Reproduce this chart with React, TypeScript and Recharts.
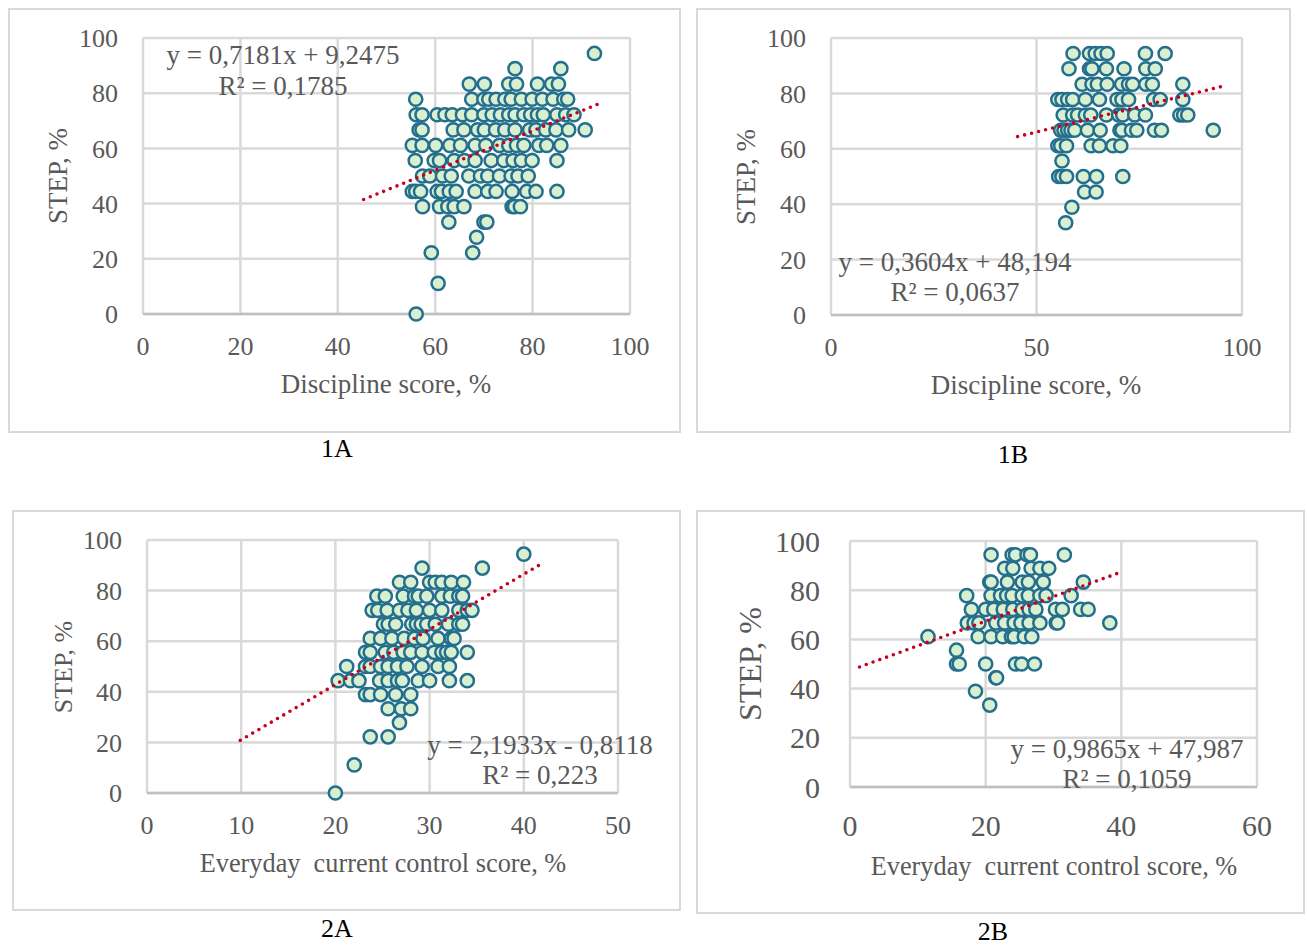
import { ScatterChart, Scatter, XAxis, YAxis, CartesianGrid, Label } from 'recharts';

// STEP score levels, low to high. Each xs array below lists the x values seen at that level.
const stepLevels = [0, 11.1, 22.2, 27.8, 33.3, 38.9, 44.4, 50, 55.6, 61.1, 66.7, 72.2, 77.8, 83.3, 88.9, 94.4];

const xs1A = [
  [56.1], [60.6], [59.2, 67.7], [68.5], [62.8, 70, 70.6],
  [57.4, 60.9, 62.6, 63.9, 65.9, 75.8, 76.3, 77.5],
  [55.3, 56, 57, 60.4, 61.3, 62.9, 64.3, 68.2, 70.8, 72.5, 75.8, 78.8, 80.7, 85],
  [57.4, 58.9, 61.5, 63.3, 66.9, 69.3, 70.8, 73.2, 75.6, 77, 79.1],
  [55.9, 59.8, 60.9, 63.9, 66, 68.2, 71.5, 74.1, 76, 77.7, 79.9, 85],
  [55.3, 57.3, 60.1, 63, 65.2, 68.2, 70.4, 73.2, 75.1, 76.7, 78.2, 81.3, 82.9, 85.8],
  [56.7, 57.3, 63.7, 65.9, 68.7, 70.1, 72.4, 74.3, 76.4, 79.4, 80.7, 82.7, 84.8, 87.4, 90.8],
  [56.1, 57.3, 60.4, 62, 63.5, 65.6, 67.5, 70, 71.7, 73.4, 75.1, 76.4, 78.2, 79.6, 81, 82.2, 85, 86.8, 88.5],
  [56, 67.5, 70, 71, 72.5, 74.3, 75.6, 77.7, 79.9, 82, 84.2, 86.4, 87.2],
  [67, 70.1, 75.1, 76.7, 81, 83.9, 85.3],
  [76.4, 85.8],
  [92.7],
];
const xs1B = [
  [], [], [], [], [57.1], [58.6], [61.7, 64.5],
  [55.4, 56.2, 57.3, 61.4, 64.6, 71],
  [56.2],
  [55.2, 55.9, 57.3, 63.3, 65.3, 68.6, 70.5],
  [55.9, 56.7, 57.6, 58.4, 59.3, 62.4, 65.5, 70.3, 70.8, 73.1, 74.4, 78.7, 80.4, 93],
  [56.5, 58.8, 60, 61.9, 63.2, 67, 70, 71, 73.9, 76.5, 84.9, 85.8, 86.8],
  [55.2, 56.2, 57.6, 58.8, 61.9, 65.3, 69.6, 70.8, 72.4, 78.5, 80.1, 85.6],
  [61.1, 63.5, 64.8, 67.2, 70.7, 72.4, 73.4, 76.6, 78.2, 85.6],
  [57.9, 62.9, 63.5, 67, 71.3, 76.6, 78.9],
  [58.9, 62.9, 64.3, 65.7, 67.2, 76.5, 81.3],
];
const xs2A = [
  [20], [22], [23.7, 25.6], [26.8], [25.6, 27, 28],
  [23.2, 23.7, 24.8, 26.4, 28],
  [20.3, 21.6, 22.5, 24.7, 25.6, 26.6, 27.1, 28.8, 30, 32.1, 34],
  [21.2, 23.2, 23.7, 24.8, 25.6, 26.6, 27.6, 29.2, 30.9, 32.1],
  [23.2, 23.7, 25.3, 26.2, 27.2, 28, 29.2, 30.5, 31.3, 31.8, 32.3, 34],
  [23.7, 24.8, 26, 27.3, 28.4, 29.3, 30.9, 32.3, 32.6],
  [25.1, 25.6, 26.4, 28.1, 28.6, 29.1, 29.7, 30.6, 32, 33.1, 33.5],
  [23.9, 24.5, 25.5, 26.8, 27.7, 28.6, 30, 31.3, 33.1, 34, 34.5],
  [24.4, 25.3, 27.2, 28.4, 28.8, 29.7, 31.3, 32.2, 33.1, 33.5],
  [26.8, 28, 30, 30.6, 31.3, 32.3, 33.6],
  [29.2, 35.6],
  [40],
];
const xs2B = [
  [], [], [], [], [20.6], [18.5], [21.5, 21.6],
  [15.7, 16.1, 20, 24.4, 25.3, 27.2],
  [15.7],
  [11.5, 18.9, 20.8, 22.5, 23.8, 24.2, 25.7, 26.8],
  [17.3, 18.3, 19, 21.5, 22.8, 24.2, 25.2, 26.4, 28, 30.4, 30.6, 38.3],
  [17.9, 20, 21.2, 22.6, 24, 25.4, 26.4, 27.4, 30.3, 31.3, 34, 35.1],
  [17.2, 20.8, 22.2, 23.1, 23.9, 25.4, 26.3, 28, 28.9, 32.6],
  [20.6, 20.8, 23.2, 25.4, 26.3, 28.5, 34.4],
  [22.8, 24, 26.7, 28, 29.3],
  [20.8, 23.9, 24.4, 26.1, 26.6, 31.6],
];

// trend line ends
const trend1A = [{ x: 45.3, y: 41.5 }, { x: 94.1, y: 76.5 }];
const trend1B = [{ x: 45.4, y: 64.4 }, { x: 95.1, y: 82.5 }];
const trend2A = [{ x: 9.9, y: 20.8 }, { x: 41.7, y: 90.2 }];
const trend2B = [{ x: 1.4, y: 48.8 }, { x: 40.2, y: 87.6 }];

const yTicks = [0, 20, 40, 60, 80, 100];
const xTicks1A = [0, 20, 40, 60, 80, 100];
const xTicks1B = [0, 50, 100];
const xTicks2A = [0, 10, 20, 30, 40, 50];
const xTicks2B = [0, 20, 40, 60];

const toPoints = (xs: number[][]) =>
  xs.flatMap((row, i) => row.map((x) => ({ x, y: stepLevels[i] })));

const SERIF = '"Liberation Serif", serif';
const TEXT = '#595959';
const GRID = '#D9D9D9';

const Dot = (props: any) => (
  <circle cx={props.cx} cy={props.cy} r={6.6} fill="#D8EFD0" stroke="#246F8E" strokeWidth={2.5} />
);

const panels = [
  {
    name: '1A', frame: [8, 8, 681, 433], plot: [143, 38, 630, 314], xs: xs1A, trend: trend1A, xTicks: xTicks1A, xMax: 100,
    xTitle: 'Discipline score, %', xTitleAt: [386, 384], yTitleAt: [58, 176], font: 26, xFont: 27, yFont: 27, tickGap: 23,
    eq: ['y = 0,7181x + 9,2475', 'R² = 0,1785'], eqFont: 27, eqAt: [283, 55, 86], caption: [337, 449],
  },
  {
    name: '1B', frame: [696, 8, 1291, 433], plot: [831, 38, 1242, 315], xs: xs1B, trend: trend1B, xTicks: xTicks1B, xMax: 100,
    xTitle: 'Discipline score, %', xTitleAt: [1036, 385], yTitleAt: [746, 177], font: 26, xFont: 27, yFont: 27, tickGap: 23,
    eq: ['y = 0,3604x + 48,194', 'R² = 0,0637'], eqFont: 27, eqAt: [955, 262, 292], caption: [1013, 455],
  },
  {
    name: '2A', frame: [12, 510, 681, 911], plot: [147, 540, 618, 793], xs: xs2A, trend: trend2A, xTicks: xTicks2A, xMax: 50,
    xTitle: 'Everyday  current control score, %', xTitleAt: [383, 863], yTitleAt: [63, 667], font: 26, xFont: 26.3, yFont: 26, tickGap: 23,
    eq: ['y = 2,1933x - 0,8118', 'R² = 0,223'], eqFont: 27, eqAt: [540, 745, 775], caption: [337, 929],
  },
  {
    name: '2B', frame: [696, 510, 1305, 914], plot: [850, 541, 1257, 787], xs: xs2B, trend: trend2B, xTicks: xTicks2B, xMax: 60,
    xTitle: 'Everyday  current control score, %', xTitleAt: [1054, 866], yTitleAt: [750, 664], font: 30, xFont: 26.3, yFont: 32, tickGap: 28,
    eq: ['y = 0,9865x + 47,987', 'R² = 0,1059'], eqFont: 27, eqAt: [1127, 749, 779], caption: [993, 932],
  },
];

function Panel({ p }: { p: (typeof panels)[number] }) {
  const [fl, ft, fr, fb] = p.frame;
  const [pl, pt, pr, pb] = p.plot;
  const w = fr - fl;
  const h = fb - ft;
  const tickStyle = { fontFamily: SERIF, fontSize: p.font, fill: TEXT };
  return (
    <>
      <div style={{ position: 'absolute', left: fl, top: ft, width: w - 4, height: h - 4, border: `2px solid ${GRID}` }} />
      <div style={{ position: 'absolute', left: fl, top: ft }}>
        <ScatterChart width={w} height={h} margin={{ top: pt - ft, right: fr - pr, bottom: 0, left: 0 }}>
          <CartesianGrid stroke={GRID} strokeWidth={2.5} />
          <XAxis
            type="number"
            dataKey="x"
            domain={[0, p.xMax]}
            ticks={p.xTicks}
            height={fb - pb}
            tickLine={false}
            axisLine={{ stroke: '#BFBFBF', strokeWidth: 2.5 }}
            tick={tickStyle}
            tickMargin={p.tickGap - 6}
            interval={0}
          >
            <Label
              content={() => (
                <text x={p.xTitleAt[0] - fl} y={p.xTitleAt[1] - ft} dy="0.33em" textAnchor="middle" fontFamily={SERIF} fontSize={p.xFont} fill={TEXT} style={{ whiteSpace: 'pre' }}>
                  {p.xTitle}
                </text>
              )}
            />
          </XAxis>
          <YAxis
            type="number"
            dataKey="y"
            domain={[0, 100]}
            ticks={yTicks}
            width={pl - fl}
            tickLine={false}
            axisLine={false}
            tick={tickStyle}
            tickMargin={p.tickGap - 4}
            interval={0}
          >
            <Label
              content={() => (
                <text
                  transform={`translate(${p.yTitleAt[0] - fl} ${p.yTitleAt[1] - ft}) rotate(-90)`}
                  dy="0.33em"
                  textAnchor="middle"
                  fontFamily={SERIF}
                  fontSize={p.yFont}
                  fill={TEXT}
                >
                  STEP, %
                </text>
              )}
            />
          </YAxis>
          <Scatter data={toPoints(p.xs)} shape={Dot} isAnimationActive={false} />
          <Scatter
            data={p.trend}
            shape={() => <g />}
            line={{ stroke: '#C8001E', strokeWidth: 3.6, strokeDasharray: '0 7.2', strokeLinecap: 'round' }}
            isAnimationActive={false}
          />
        </ScatterChart>
      </div>
      {p.eq.map((line, i) => (
        <div
          key={line}
          style={{
            position: 'absolute',
            left: p.eqAt[0] - 200,
            width: 400,
            top: p.eqAt[i + 1] - 15,
            height: 30,
            lineHeight: '30px',
            textAlign: 'center',
            fontFamily: SERIF,
            fontSize: p.eqFont,
            color: TEXT,
          }}
        >
          {line}
        </div>
      ))}
      <div
        style={{
          position: 'absolute',
          left: p.caption[0] - 40,
          width: 80,
          top: p.caption[1] - 14,
          height: 28,
          lineHeight: '28px',
          textAlign: 'center',
          fontFamily: SERIF,
          fontSize: 26,
          color: '#000',
        }}
      >
        {p.name}
      </div>
    </>
  );
}

export default function App() {
  return (
    <div style={{ position: 'absolute', left: 0, top: 0, width: 1307, height: 945, background: '#fff', overflow: 'hidden' }}>
      {panels.map((p) => (
        <Panel key={p.name} p={p} />
      ))}
    </div>
  );
}
